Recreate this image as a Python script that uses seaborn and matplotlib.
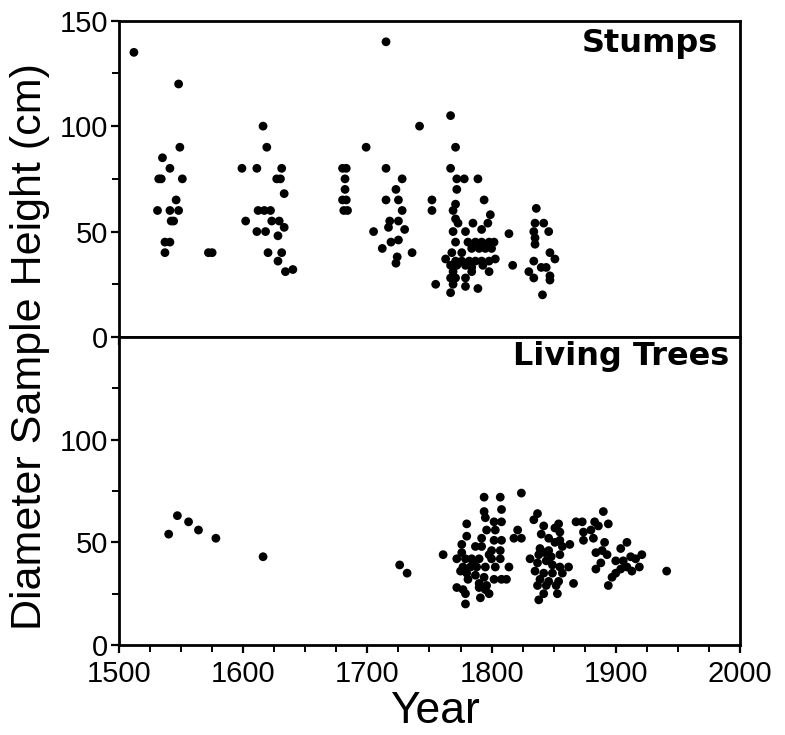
import matplotlib
matplotlib.use("Agg")
import matplotlib.pyplot as plt
import seaborn as sns
import pandas as pd
from matplotlib.ticker import MultipleLocator, FixedLocator

# ---------------- data ----------------
stump_years = [1512, 1548, 1549, 1535, 1541, 1532, 1534, 1551, 1546, 1531, 1541, 1548,
               1542, 1544, 1537, 1541, 1537, 1572, 1575,
               1616, 1619, 1599, 1611, 1631, 1627, 1630, 1633, 1602, 1612, 1617, 1622,
               1623, 1629, 1633, 1611, 1618, 1628, 1620, 1631, 1628, 1634, 1640,
               1715, 1699, 1680, 1683, 1682, 1682, 1680, 1683, 1681, 1684,
               1715, 1728, 1723, 1715, 1725, 1728, 1718, 1725, 1717, 1730, 1705, 1719,
               1725, 1712, 1736, 1724, 1723, 1742, 1752, 1752, 1755,
               1767, 1771, 1767, 1772, 1778, 1789, 1772, 1794, 1771, 1769, 1799, 1771,
               1773, 1785, 1797, 1769, 1779, 1792, 1814, 1771, 1781, 1787, 1792, 1798,
               1802, 1784, 1790, 1795, 1800, 1768, 1776, 1763, 1771, 1776, 1782, 1787,
               1792, 1798, 1803, 1767, 1772, 1779, 1784, 1793, 1769, 1784, 1798, 1767,
               1771, 1779, 1769, 1779, 1789, 1767, 1817,
               1836, 1835, 1842, 1846, 1834, 1835, 1835, 1847, 1851, 1834, 1840, 1844,
               1830, 1834, 1847, 1847, 1841]
stump_heights = [135, 120, 90, 85, 80, 75, 75, 75, 65, 60, 60, 60,
                 55, 55, 45, 45, 40, 40, 40,
                 100, 90, 80, 80, 80, 75, 75, 68, 55, 60, 60, 60,
                 55, 55, 52, 50, 50, 48, 40, 40, 36, 31, 32,
                 140, 90, 80, 80, 75, 70, 65, 65, 60, 60,
                 80, 75, 70, 65, 65, 60, 55, 55, 52, 51, 50, 45,
                 46, 42, 40, 38, 35, 100, 65, 60, 25,
                 105, 90, 80, 75, 75, 75, 70, 65, 63, 60, 58, 56,
                 54, 54, 54, 50, 50, 51, 49, 45, 45, 45, 45, 45,
                 45, 42, 42, 42, 42, 40, 40, 37, 36, 36, 36, 36,
                 36, 36, 37, 34, 34, 34, 33, 34, 31, 31, 31, 28,
                 28, 28, 25, 24, 23, 21, 34,
                 61, 54, 54, 50, 50, 47, 44, 40, 37, 36, 33, 33,
                 31, 28, 29, 27, 20]

living_years = [1540, 1547, 1556, 1564, 1578, 1616, 1726, 1732, 1761,
                1794, 1807, 1824, 1794, 1808, 1795, 1802, 1808, 1780, 1796, 1803,
                1780, 1802, 1808, 1776, 1787, 1792, 1800, 1807, 1776, 1772, 1779,
                1784, 1790, 1800, 1807, 1814, 1777, 1783, 1788, 1795, 1803, 1780,
                1787, 1794, 1802, 1808, 1812, 1781, 1790, 1796, 1772, 1777, 1790,
                1795, 1779, 1791, 1798, 1779, 1785, 1798, 1775, 1792,
                1837, 1834, 1818, 1824, 1821, 1854, 1842, 1855, 1851, 1840, 1846,
                1851, 1855, 1863, 1857, 1839, 1846, 1855, 1831, 1838, 1837, 1844,
                1849, 1855, 1862, 1835, 1842, 1849, 1857, 1839, 1846, 1854, 1866,
                1837, 1844, 1852, 1842, 1853, 1838, 1868, 1843, 1848,
                1890, 1873, 1883, 1886, 1894, 1874, 1880, 1882, 1874, 1891, 1909,
                1884, 1889, 1893, 1904, 1921, 1912, 1916, 1888, 1900, 1906, 1884,
                1909, 1919, 1913, 1904, 1900, 1897, 1894, 1941]
living_heights = [54, 63, 60, 56, 52, 43, 39, 35, 44,
                  72, 72, 74, 65, 66, 62, 60, 60, 59, 56, 56,
                  53, 51, 51, 49, 48, 48, 46, 46, 45, 42, 42,
                  42, 42, 42, 42, 38, 38, 38, 38, 38, 38, 35,
                  34, 33, 32, 32, 32, 32, 30, 29, 28, 27, 28,
                  27, 25, 23, 25, 20, 40, 44, 36, 52,
                  64, 61, 52, 52, 56, 59, 58, 55, 57, 54, 52,
                  50, 51, 49, 48, 47, 46, 44, 42, 44, 40, 41,
                  39, 38, 38, 36, 35, 35, 35, 32, 31, 31, 30,
                  29, 29, 29, 25, 25, 22, 60, 45, 43,
                  65, 60, 60, 58, 59, 55, 56, 52, 51, 50, 50,
                  45, 46, 44, 47, 44, 43, 42, 40, 41, 41, 37,
                  38, 38, 36, 37, 35, 33, 29, 36]

panel_titles = ["Stumps", "Living Trees"]
x_ticks = [1500, 1600, 1700, 1800, 1900, 2000]
ylabel = "Diameter Sample Height (cm)"
xlabel = "Year"

stumps = pd.DataFrame({"year": stump_years, "height": stump_heights})
living = pd.DataFrame({"year": living_years, "height": living_heights})

# ---------------- style ----------------
sns.set_theme(style="white")
plt.rcParams["font.family"] = ["Liberation Sans", "DejaVu Sans"]
plt.rcParams["axes.linewidth"] = 2.0
for key in ["text.color", "axes.labelcolor", "xtick.color", "ytick.color",
            "axes.edgecolor"]:
    plt.rcParams[key] = "black"

fig = plt.figure(figsize=(7.85, 7.35), dpi=100)
ax_top = fig.add_axes([0.1516, 0.5415, 0.791, 0.4303])
ax_bot = fig.add_axes([0.1516, 0.1224, 0.791, 0.4191])

for ax, df in [(ax_top, stumps), (ax_bot, living)]:
    sns.scatterplot(data=df, x="year", y="height", ax=ax, color="black",
                    s=40, edgecolor="none", linewidth=0, legend=False)
    ax.set_xlim(1500, 2000)
    ax.set_ylim(0, 150)
    ax.set_xlabel("")
    ax.set_ylabel("")
    for sp in ax.spines.values():
        sp.set_visible(True)
        sp.set_color("black")
        sp.set_linewidth(2.0)
    ax.xaxis.set_major_locator(FixedLocator(x_ticks))
    ax.xaxis.set_minor_locator(MultipleLocator(25))
    ax.yaxis.set_minor_locator(MultipleLocator(25))
    ax.tick_params(axis="both", which="major", direction="out", length=6,
                   width=1.6, colors="black", labelsize=21,
                   bottom=True, left=True, top=False, right=False)
    ax.tick_params(axis="y", which="major", pad=2)
    ax.tick_params(axis="x", which="major", pad=5)
    ax.tick_params(axis="both", which="minor", direction="out", length=5,
                   width=1.4, colors="black",
                   bottom=True, left=True, top=False, right=False)
    ax.grid(False)

ax_top.yaxis.set_major_locator(FixedLocator([0, 50, 100, 150]))
ax_bot.yaxis.set_major_locator(FixedLocator([0, 50, 100]))
ax_top.tick_params(axis="x", labelbottom=False)

ax_top.text(0.965, 0.90, panel_titles[0], transform=ax_top.transAxes,
            ha="right", va="baseline", fontsize=23, fontweight="bold",
            family="DejaVu Sans", color="black")
ax_bot.text(0.982, 0.908, panel_titles[1], transform=ax_bot.transAxes,
            ha="right", va="baseline", fontsize=23, fontweight="bold",
            family="DejaVu Sans", color="black")

fig.text(0.038, 0.528, ylabel, rotation=90, ha="center", va="center",
         fontsize=31, color="black")
fig.text(0.554, 0.032, xlabel, ha="center", va="center", fontsize=32,
         family=["Liberation Sans Narrow", "Liberation Sans"], color="black")

fig.savefig("out.png", dpi=100, facecolor="white")
